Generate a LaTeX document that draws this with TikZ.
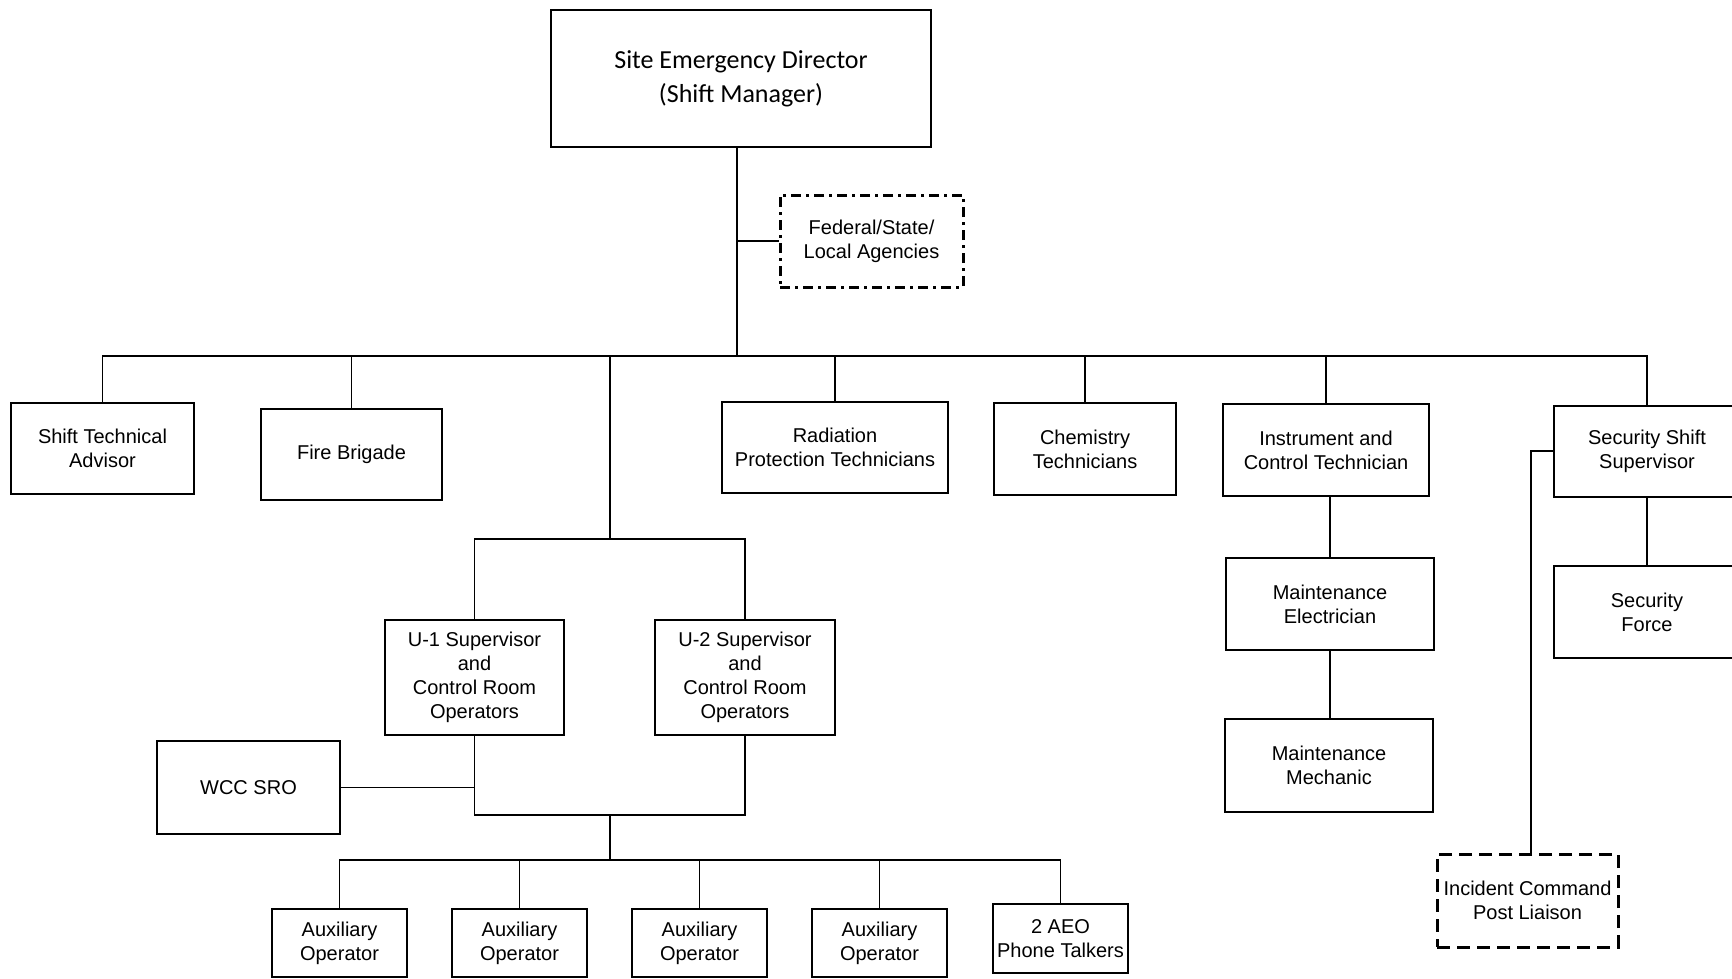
\documentclass[tikz,border=0pt]{standalone}
\usepackage{fontspec}
\setmainfont{Liberation Sans}
\newfontfamily\sedfont{Carlito}
\begin{document}
\begin{tikzpicture}[x=1pt,y=-1pt,
  box/.style={draw, line width=1.3pt, align=center, inner sep=0pt, font=\fontsize{20}{24}\selectfont},
  wire/.style={line width=1.2pt},
  dashdot/.style={line width=3pt, dash pattern=on 10pt off 5pt on 3pt off 5pt},
  dashbox/.style={line width=3pt, dash pattern=on 13pt off 7pt}]
\useasboundingbox (0,0) rectangle (1732,978);
\fill[white] (0,0) rectangle (1732,978);

% top
\node[box, line width=2.4pt, minimum width=380pt, minimum height=137pt, font=\sedfont\fontsize{26}{34}\selectfont] (sed) at (741,78.5) {Site Emergency Director\\(Shift Manager)};
\node[box, dashdot, minimum width=183pt, minimum height=92pt] (fed) at (871.5,241) {Federal/State/\\Local Agencies};

% second row
\node[box, minimum width=183pt, minimum height=91pt] (sta) at (102.5,448.5) {Shift Technical\\Advisor};
\node[box, minimum width=181pt, minimum height=91pt] (fb) at (351.5,454.5) {Fire Brigade};
\node[box, minimum width=226pt, minimum height=91pt] (rpt) at (835,447.5) {Radiation\\Protection Technicians};
\node[box, minimum width=182pt, minimum height=92pt] (chem) at (1085,449) {Chemistry\\Technicians};
\node[box, minimum width=206pt, minimum height=92pt] (ic) at (1326,450) {Instrument and\\Control Technician};
\node[box, minimum width=186pt, minimum height=91pt] (sss) at (1647,451.5) {Security Shift\\Supervisor};

% right columns
\node[box, minimum width=208pt, minimum height=92pt] (me) at (1330,604) {Maintenance\\Electrician};
\node[box, minimum width=208pt, minimum height=93pt] (mm) at (1329,765.5) {Maintenance\\Mechanic};
\node[box, minimum width=186pt, minimum height=92pt] (sf) at (1647,612) {Security\\Force};
\node[box, dashbox, minimum width=181pt, minimum height=93pt] (icp) at (1527.5,900.5) {Incident Command\\Post Liaison};

% operations
\node[box, minimum width=179pt, minimum height=115pt] (u1) at (474.5,677.5) {U-1 Supervisor\\and\\Control Room\\Operators};
\node[box, minimum width=180pt, minimum height=115pt] (u2) at (745,677.5) {U-2 Supervisor\\and\\Control Room\\Operators};
\node[box, minimum width=183pt, minimum height=93pt] (wcc) at (248.5,787.5) {WCC SRO};

\node[box, minimum width=135pt, minimum height=68pt] (a1) at (339.5,943) {Auxiliary\\Operator};
\node[box, minimum width=135pt, minimum height=68pt] (a2) at (519.5,943) {Auxiliary\\Operator};
\node[box, minimum width=135pt, minimum height=68pt] (a3) at (699.5,943) {Auxiliary\\Operator};
\node[box, minimum width=135pt, minimum height=68pt] (a4) at (879.5,943) {Auxiliary\\Operator};
\node[box, minimum width=135pt, minimum height=69pt] (aeo) at (1060.5,938.5) {2 AEO\\Phone Talkers};

% coordinates
\coordinate (bus) at (737,356);
\coordinate (mid) at (610,356);
\coordinate (brtop) at (610,539);
\coordinate (brbot) at (610,815);
\coordinate (auxbus) at (610,860);
\coordinate (icpx) at (1531,451);

% connectors
\draw[wire] (sed.south -| bus) -- (bus);
\draw[wire] (fed.west -| bus) -- (fed.west);
\draw[wire] (sta.north) |- (sss.north |- bus) -- (sss.north);
\draw[wire] (fb.north) -- (fb.north |- bus);
\draw[wire] (mid) -- (brtop);
\draw[wire] (rpt.north) -- (rpt.north |- bus);
\draw[wire] (chem.north) -- (chem.north |- bus);
\draw[wire] (ic.north) -- (ic.north |- bus);

\draw[wire] (u1.north) |- (brtop) -| (u2.north);
\draw[wire] (u1.south) |- (brbot) -| (u2.south);
\draw[wire] (wcc.east) -- (wcc.east -| u1.south);
\draw[wire] (brbot) -- (auxbus);
\draw[wire] (a1.north) |- (auxbus) -| (aeo.north);
\draw[wire] (a2.north) -- (a2.north |- auxbus);
\draw[wire] (a3.north) -- (a3.north |- auxbus);
\draw[wire] (a4.north) -- (a4.north |- auxbus);

\draw[wire] (ic.south -| me.north) -- (me.north);
\draw[wire] (me.south) -- (mm.north -| me.south);
\draw[wire] (sss.south) -- (sf.north);
\draw[wire] (sss.west |- icpx) -- (icpx) -- (icpx |- icp.north);
\end{tikzpicture}
\end{document}
